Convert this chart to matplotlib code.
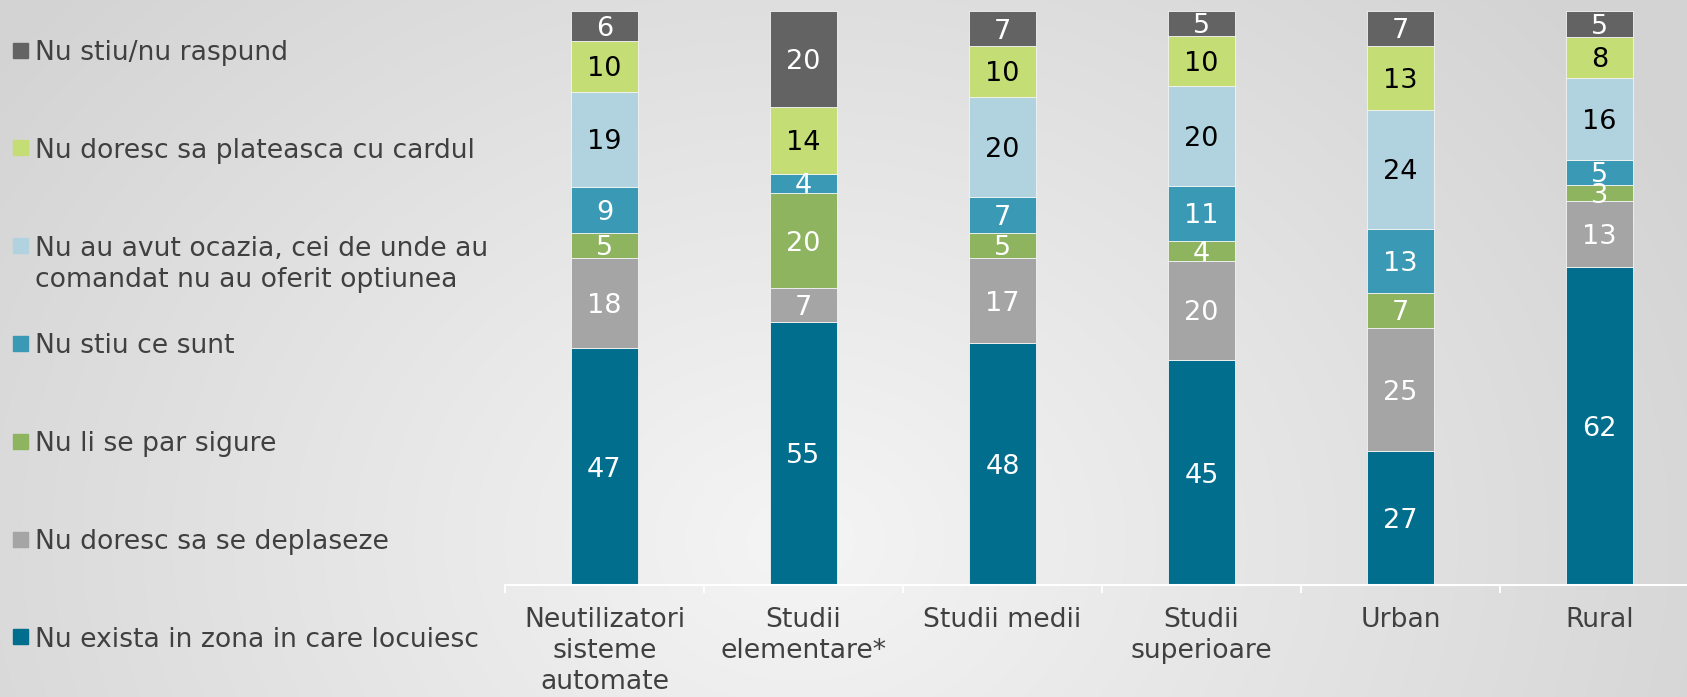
import matplotlib
matplotlib.use("Agg")
import matplotlib.pyplot as plt
from matplotlib.patches import Rectangle
import numpy as np

# categories on the x axis
categories = ["Neutilizatori\nsisteme\nautomate", "Studii\nelementare*", "Studii medii",
              "Studii\nsuperioare", "Urban", "Rural"]

# series, stacked bottom -> top
series_names = [
    "Nu exista in zona in care locuiesc",
    "Nu doresc sa se deplaseze",
    "Nu li se par sigure",
    "Nu stiu ce sunt",
    "Nu au avut ocazia, cei de unde au\ncomandat nu au oferit optiunea",
    "Nu doresc sa plateasca cu cardul",
    "Nu stiu/nu raspund",
]
nu_exista = [47, 55, 48, 45, 27, 62]
nu_deplaseze = [18, 7, 17, 20, 25, 13]
nu_sigure = [5, 20, 5, 4, 7, 3]
nu_stiu_ce = [9, 4, 7, 11, 13, 5]
nu_ocazia = [19, 0, 20, 20, 24, 16]
nu_cardul = [10, 14, 10, 10, 13, 8]
nu_stiu_nr = [6, 20, 7, 5, 7, 5]

series_values = [nu_exista, nu_deplaseze, nu_sigure, nu_stiu_ce, nu_ocazia, nu_cardul, nu_stiu_nr]
colors = ["#006E8C", "#A5A5A5", "#8EB460", "#3A9AB6", "#B1D3DF", "#C4DD74", "#636363"]
label_colors = ["white", "white", "white", "white", "black", "black", "white"]

W, H = 1687, 697
fig = plt.figure(figsize=(W / 100, H / 100), dpi=100)

# radial grey background
bg = fig.add_axes([0, 0, 1, 1])
yy, xx = np.mgrid[0:H, 0:W]
r = np.sqrt(((xx - 800) / 1000.0) ** 2 + ((yy - 540) / 800.0) ** 2)
grad = 0.96 - 0.13 * np.clip(r, 0, 1)
bg.imshow(np.dstack([grad] * 3), extent=[0, 1, 0, 1], aspect="auto")
bg.axis("off")

ax = fig.add_axes([505 / W, 112 / H, 1194 / W, 574 / H])
ax.patch.set_visible(False)

fs = 19.5
fs_txt = 19.2
x = np.arange(len(categories))
data = np.array(series_values, dtype=float)
totals = data.sum(axis=0)
bottom = np.zeros(len(categories))
for vals, c, tc in zip(data, colors, label_colors):
    pct = vals / totals * 100
    ax.bar(x, pct, width=0.337, bottom=bottom, color=c, edgecolor="#f4f4f4", linewidth=0.6)
    for xi, v, b, p in zip(x, vals, bottom, pct):
        if v > 0:
            ax.text(xi, b + p / 2, f"{int(v)}", ha="center", va="center_baseline",
                    fontsize=fs, color=tc)
    bottom += pct

ax.set_xlim(-0.5, 5.5)
ax.set_ylim(0, 100)
ax.set_yticks([])
for s in ["top", "right", "left"]:
    ax.spines[s].set_visible(False)
ax.spines["bottom"].set_color("white")
ax.spines["bottom"].set_linewidth(1.5)

ax.set_xticks(x)
ax.set_xticklabels(categories, fontsize=fs_txt, color="#404040", linespacing=1.25)
ax.set_xticks(np.arange(-0.5, 6, 1), minor=True)
ax.tick_params(axis="x", which="major", length=0, pad=16)
ax.tick_params(axis="x", which="minor", length=6, width=1.4, color="white")

# legend drawn on the left, one line of text at a time
for i, name in enumerate(reversed(series_names)):
    yc = 50 + i * 97.8
    c = colors[len(colors) - 1 - i]
    fig.patches.append(Rectangle((13 / W, 1 - (yc + 7.5) / H), 15 / W, 15 / H,
                                 transform=fig.transFigure, color=c))
    for k, line in enumerate(name.split("\n")):
        fig.text(35 / W, 1 - (yc + k * 31) / H, line, ha="left", va="center_baseline",
                 fontsize=fs_txt, color="#404040")

fig.savefig("out.png", dpi=100)
